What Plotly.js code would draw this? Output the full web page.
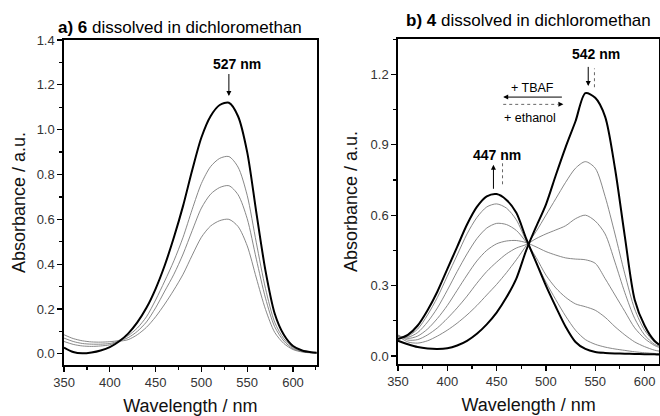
<!DOCTYPE html>
<html>
<head>
<meta charset="utf-8">
<script src="https://cdn.plot.ly/plotly-3.0.1.min.js"></script>
<style>html,body{margin:0;padding:0;background:#fff;}#chart{width:660px;height:416px;}</style>
</head>
<body>
<div id="chart"></div>
<script>
// ---------- panel a) : compound 6 ----------
const wlA = [350,360,370,380,390,400,410,420,430,440,450,460,470,480,490,500,510,520,530,540,550,560,570,580,590,600,610,620,626];
const a6Thick = [0.028,0.008,0.002,0.006,0.015,0.030,0.055,0.090,0.140,0.205,0.290,0.395,0.520,0.660,0.820,0.965,1.060,1.110,1.120,1.060,0.900,0.630,0.370,0.180,0.085,0.035,0.015,0.007,0.005];
const a6Thin1 = [0.085,0.068,0.058,0.053,0.052,0.054,0.060,0.081,0.115,0.165,0.240,0.325,0.415,0.520,0.645,0.760,0.835,0.872,0.880,0.833,0.707,0.495,0.291,0.141,0.067,0.028,0.012,0.006,0.004];
const a6Thin2 = [0.070,0.055,0.046,0.043,0.043,0.046,0.057,0.072,0.100,0.142,0.205,0.280,0.355,0.445,0.550,0.650,0.712,0.742,0.750,0.710,0.603,0.422,0.248,0.121,0.057,0.023,0.010,0.005,0.004];
const a6Thin3 = [0.055,0.042,0.035,0.033,0.035,0.040,0.055,0.063,0.085,0.118,0.165,0.222,0.285,0.355,0.440,0.520,0.570,0.594,0.600,0.568,0.482,0.338,0.198,0.096,0.046,0.019,0.008,0.004,0.003];

// ---------- panel b) : compound 4 ----------
const wlB = [350,360,370,380,390,400,410,420,430,440,450,460,470,480,490,500,510,520,530,540,550,560,570,580,590,600,610,616];
const b4Start = [0.072,0.090,0.130,0.195,0.275,0.370,0.465,0.560,0.635,0.680,0.690,0.665,0.610,0.500,0.400,0.300,0.210,0.125,0.060,0.030,0.017,0.013,0.011,0.010,0.009,0.008,0.007,0.007];
const b4End   = [0.065,0.050,0.038,0.032,0.030,0.033,0.045,0.065,0.095,0.135,0.185,0.250,0.330,0.450,0.550,0.645,0.770,0.890,1.000,1.120,1.100,1.020,0.800,0.510,0.240,0.130,0.065,0.045];
const b4Step1 = [0.080,0.085,0.115,0.175,0.250,0.340,0.430,0.520,0.590,0.635,0.648,0.630,0.580,0.490,0.400,0.315,0.240,0.170,0.110,0.070,0.050,0.038,0.030,0.024,0.018,0.014,0.011,0.010];
const b4Step2 = [0.085,0.080,0.100,0.145,0.205,0.280,0.360,0.435,0.500,0.545,0.565,0.560,0.535,0.485,0.420,0.345,0.290,0.250,0.222,0.210,0.195,0.165,0.125,0.090,0.060,0.040,0.025,0.020];
const b4Step3 = [0.088,0.075,0.085,0.115,0.160,0.215,0.280,0.345,0.405,0.450,0.478,0.490,0.492,0.483,0.465,0.445,0.430,0.418,0.413,0.410,0.395,0.330,0.260,0.190,0.120,0.075,0.045,0.035];
const b4Step4 = [0.090,0.068,0.070,0.090,0.120,0.160,0.205,0.255,0.310,0.360,0.400,0.435,0.460,0.475,0.500,0.520,0.537,0.555,0.585,0.600,0.575,0.520,0.400,0.270,0.160,0.090,0.050,0.040];
const b4Step5 = [0.085,0.060,0.055,0.065,0.085,0.110,0.140,0.175,0.215,0.260,0.305,0.355,0.410,0.470,0.530,0.600,0.670,0.740,0.800,0.828,0.800,0.680,0.520,0.350,0.200,0.110,0.060,0.045];

// text
const titleA = "<b>a) 6</b> dissolved in dichloromethan";
const titleB = "<b>b) 4</b> dissolved in dichloromethan";
const xTitle = "Wavelength / nm";
const yTitle = "Absorbance / a.u.";
const peakLabels = ["527 nm", "542 nm", "447 nm"];
const processLabels = ["+ TBAF", "+ ethanol"];

const FONT = "'Liberation Sans', Arial, Helvetica, sans-serif";
const THICK = {color:'#000', width:2, shape:'spline', smoothing:0.8};
const THIN = {color:'#7a7a7a', width:0.9, shape:'spline', smoothing:0.8};

function tr(x, y, line, xa, ya){
  return {x:x, y:y, type:'scatter', mode:'lines', line:line, xaxis:xa, yaxis:ya, hoverinfo:'skip', showlegend:false};
}

const data = [
  tr(wlA, a6Thin3, THIN, 'x', 'y'),
  tr(wlA, a6Thin2, THIN, 'x', 'y'),
  tr(wlA, a6Thin1, THIN, 'x', 'y'),
  tr(wlA, a6Thick, THICK, 'x', 'y'),
  tr(wlB, b4Step1, THIN, 'x2', 'y2'),
  tr(wlB, b4Step2, THIN, 'x2', 'y2'),
  tr(wlB, b4Step3, THIN, 'x2', 'y2'),
  tr(wlB, b4Step4, THIN, 'x2', 'y2'),
  tr(wlB, b4Step5, THIN, 'x2', 'y2'),
  tr(wlB, b4Start, THICK, 'x2', 'y2'),
  tr(wlB, b4End, THICK, 'x2', 'y2')
];

function xax(domain, range, anchor){
  return {domain:domain, range:range, anchor:anchor, showline:true, mirror:true, linecolor:'#000', linewidth:1.7,
    ticks:'outside', ticklen:5, tickwidth:1.2, tickcolor:'#000', tick0:350, dtick:50,
    minor:{ticks:'outside', ticklen:3, tickwidth:1.2, tickcolor:'#000', dtick:25},
    showgrid:false, zeroline:false, tickfont:{family:FONT, size:13, color:'#333'},
    title:{text:xTitle, font:{family:FONT, size:18, color:'#111'}, standoff:10}};
}
function yax(domain, range, anchor, dtick, minor, standoff){
  return {domain:domain, range:range, anchor:anchor, showline:true, mirror:true, linecolor:'#000', linewidth:1.7,
    ticks:'outside', ticklen:5, tickwidth:1.2, tickcolor:'#000', tick0:0, dtick:dtick, tickformat:'.1f',
    minor:{ticks:'outside', ticklen:3, tickwidth:1.2, tickcolor:'#000', dtick:minor},
    showgrid:false, zeroline:false, tickfont:{family:FONT, size:13, color:'#333'},
    title:{text:yTitle, font:{family:FONT, size:18, color:'#111'}, standoff:standoff}};
}

function arrow(xr, yr, x, y, ax, ay, w){
  return {xref:xr, yref:yr, axref:xr, ayref:yr, x:x, y:y, ax:ax, ay:ay, text:'', showarrow:true,
    arrowhead:2, arrowsize:1, arrowwidth:w, arrowcolor:'#000'};
}
function label(xr, yr, x, y, text, size, bold){
  return {xref:xr, yref:yr, x:x, y:y, text: bold ? '<b>'+text+'</b>' : text, showarrow:false,
    font:{family:FONT, size:size, color:'#000'}, xanchor:'center', yanchor:'middle'};
}

const annotations = [
  {xref:'paper', yref:'paper', x:0.272, y:0.934, text:titleA, showarrow:false, font:{family:FONT, size:17, color:'#000'}, xanchor:'center', yanchor:'middle'},
  {xref:'paper', yref:'paper', x:0.800, y:0.950, text:titleB, showarrow:false, font:{family:FONT, size:17, color:'#000'}, xanchor:'center', yanchor:'middle'},
  label('x','y', 539, 1.295, peakLabels[0], 14, true),
  arrow('x','y', 530, 1.150, 530, 1.255, 1),
  label('x2','y2', 551, 1.285, peakLabels[1], 14, true),
  arrow('x2','y2', 542.9, 1.150, 542.9, 1.238, 1),
  arrow('x2','y2', 549.2, 1.232, 549.2, 1.228, 1),
  label('x2','y2', 450.6, 0.855, peakLabels[2], 14, true),
  arrow('x2','y2', 446.8, 0.815, 446.8, 0.706, 1),
  arrow('x2','y2', 456, 0.712, 456, 0.716, 1),
  label('x2','y2', 486.2, 1.140, processLabels[0], 12.5, false),
  arrow('x2','y2', 456.7, 1.103, 517.7, 1.103, 1),
  label('x2','y2', 484.1, 1.013, processLabels[1], 12.5, false),
  arrow('x2','y2', 517.7, 1.072, 513.7, 1.072, 1)
];

const shapes = [
  {type:'line', xref:'x2', yref:'y2', x0:549.2, x1:549.2, y0:1.145, y1:1.225, line:{color:'#666', width:1, dash:'dot'}},
  {type:'line', xref:'x2', yref:'y2', x0:456, x1:456, y0:0.821, y1:0.72, line:{color:'#666', width:1, dash:'dot'}},
  {type:'line', xref:'x2', yref:'y2', x0:456.7, x1:512, y0:1.072, y1:1.072, line:{color:'#666', width:1, dash:'dot'}}
];

const layout = {
  width:660, height:416, margin:{l:0, r:0, t:0, b:0},
  paper_bgcolor:'#fff', plot_bgcolor:'#fff', showlegend:false,
  font:{family:FONT, color:'#000'},
  xaxis: xax([0.097, 0.480], [350, 626], 'y'),
  yaxis: yax([0.1226, 0.9038], [-0.05, 1.4], 'x', 0.2, 0.1, 6),
  xaxis2: xax([0.603, 0.999], [350, 615], 'y2'),
  yaxis2: yax([0.125, 0.906], [-0.034, 1.35], 'x2', 0.3, 0.15, 8),
  annotations: annotations,
  shapes: shapes
};

Plotly.newPlot('chart', data, layout, {displayModeBar:false, staticPlot:true});
</script>
</body>
</html>
